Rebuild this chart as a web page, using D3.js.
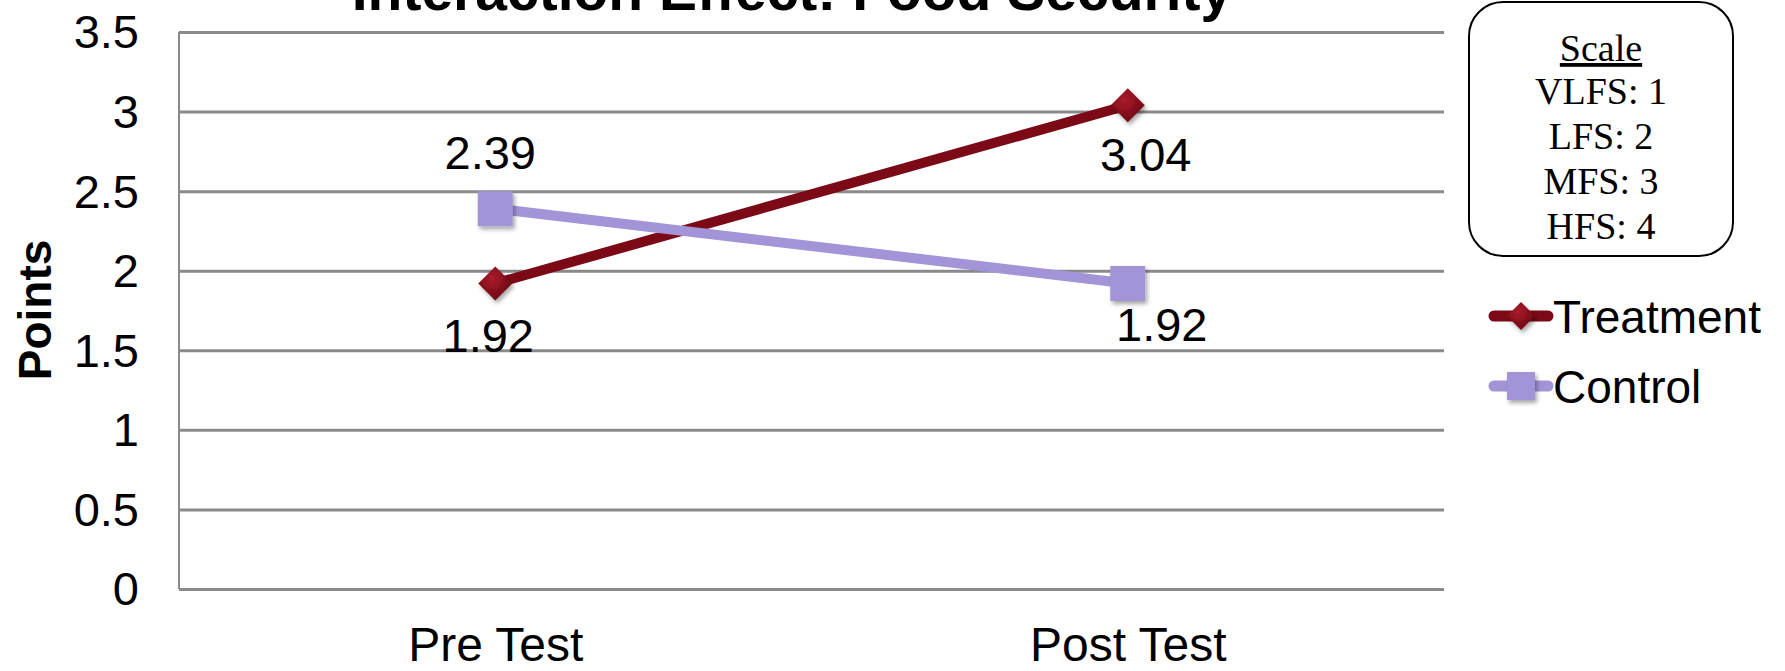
<!DOCTYPE html>
<html>
<head>
<meta charset="utf-8">
<script src="https://cdn.jsdelivr.net/npm/d3@7"></script>
<style>
    body { margin: 0; background: #fff; }
    svg { display: block; }
    text { font-family: 'Liberation Sans', Arial, sans-serif; fill: #000; }
    .box text { font-family: 'Liberation Serif', 'Times New Roman', serif; }
</style>
</head>
<body>
<div id="chart"></div>
<script>
// Data
const categories = ['Pre Test', 'Post Test'];
const treatment = [1.92, 3.04];
const control = [2.39, 1.92];
const yTicks = [0, 0.5, 1, 1.5, 2, 2.5, 3, 3.5];
const seriesNames = ['Treatment', 'Control'];
const scaleTitle = 'Scale';
const scaleLines = ['VLFS: 1', 'LFS: 2', 'MFS: 3', 'HFS: 4'];

const chart = {
    totalWidth: 1785,
    totalHeight: 671,
    margin: { top: 32, left: 179, right: 341, bottom: 82 }
};
chart.width = chart.totalWidth - chart.margin.left - chart.margin.right;
chart.height = chart.totalHeight - chart.margin.top - chart.margin.bottom;

const colors = { Treatment: '#7b0a16', Control: '#a394d8' };

const svg = d3.select('#chart')
    .append('svg')
    .attr('width', chart.totalWidth)
    .attr('height', chart.totalHeight);

const defs = svg.append('defs');
const grad = defs.append('radialGradient')
    .attr('id', 'diamondFill')
    .attr('cx', '40%').attr('cy', '35%').attr('r', '70%');
grad.append('stop').attr('offset', '0%').attr('stop-color', '#ab1c2b');
grad.append('stop').attr('offset', '100%').attr('stop-color', '#67050f');

const shadow = defs.append('filter').attr('id', 'shadow')
    .attr('x', '-30%').attr('y', '-30%').attr('width', '170%').attr('height', '170%');
shadow.append('feDropShadow')
    .attr('dx', 2).attr('dy', 3).attr('stdDeviation', 2)
    .attr('flood-color', '#000').attr('flood-opacity', 0.35);

// Scales
const xScale = d3.scalePoint()
    .domain(categories)
    .range([0, chart.width])
    .padding(0.5);

const yScale = d3.scaleLinear()
    .domain([0, 3.5])
    .range([chart.height, 0]);

const g = svg.append('g')
    .attr('transform', `translate(${chart.margin.left}, ${chart.margin.top})`);

// Title (cut off at the top in the original)
svg.append('text')
    .attr('x', 792)
    .attr('y', 10)
    .attr('text-anchor', 'middle')
    .style('font-weight', 'bold')
    .style('font-size', '57px')
    .text('Interaction Effect: Food Security');

// Y-axis with gridlines
const yAxis = d3.axisLeft(yScale)
    .tickValues(yTicks)
    .tickSize(-chart.width)
    .tickPadding(40)
    .tickFormat(d => d);

g.append('g')
    .classed('y-axis', true)
    .call(yAxis)
    .call(ax => ax.select('.domain').remove())
    .call(ax => ax.selectAll('line').attr('stroke', '#8a8a8a').attr('stroke-width', 3))
    .call(ax => ax.selectAll('text')
        .style('font-size', '47px')
        .style('font-family', "'Liberation Sans', Arial, sans-serif")
        .attr('dy', '0.34em'));

g.append('line')
    .attr('x1', 0).attr('x2', 0)
    .attr('y1', yScale(3.5)).attr('y2', yScale(0))
    .attr('stroke', '#8a8a8a')
    .attr('stroke-width', 2);

// X-axis labels
const xAxis = d3.axisBottom(xScale).tickSize(0).tickPadding(38);
g.append('g')
    .classed('x-axis', true)
    .attr('transform', `translate(0, ${chart.height})`)
    .call(xAxis)
    .call(ax => ax.select('.domain').remove())
    .call(ax => ax.selectAll('text')
        .style('font-size', '48px')
        .style('font-family', "'Liberation Sans', Arial, sans-serif"));

// Y label
svg.append('text')
    .attr('transform', `translate(51, 310) rotate(-90)`)
    .attr('text-anchor', 'middle')
    .style('font-weight', 'bold')
    .style('font-size', '46px')
    .text('Points');

// Lines
const series = [
    { id: 'Treatment', values: treatment, labelOffsets: [[-7, 69], [18, 66]] },
    { id: 'Control', values: control, labelOffsets: [[-5, -40], [34, 58]] }
];

const line = d3.line()
    .x((d, i) => xScale(categories[i]))
    .y(d => yScale(d));

g.append('g').classed('lines', true)
    .selectAll('path')
    .data(series)
    .enter()
    .append('path')
    .attr('fill', 'none')
    .attr('stroke', d => colors[d.id])
    .attr('stroke-width', 10)
    .attr('d', d => line(d.values));

const diamond = r => `M0,${-r}L${r},0L0,${r}L${-r},0Z`;
const square = s => `M${-s},${-s}H${s}V${s}H${-s}Z`;

function marker(sel, id, size) {
    if (id === 'Treatment') {
        sel.append('path')
            .attr('d', diamond(size))
            .attr('fill', 'url(#diamondFill)')
            .attr('filter', 'url(#shadow)');
    } else {
        sel.append('path')
            .attr('d', square(size))
            .attr('fill', colors.Control)
            .attr('filter', 'url(#shadow)');
    }
}

series.forEach(s => {
    s.values.forEach((v, i) => {
        const m = g.append('g')
            .attr('transform', `translate(${xScale(categories[i])}, ${yScale(v)})`);
        marker(m, s.id, s.id === 'Treatment' ? 17 : 17.5);
    });
});

// Data labels
series.forEach(s => {
    s.values.forEach((v, i) => {
        const off = s.labelOffsets[i];
        g.append('text')
            .attr('x', xScale(categories[i]) + off[0])
            .attr('y', yScale(v) + off[1])
            .attr('text-anchor', 'middle')
            .style('font-size', '47px')
            .text(v.toFixed(2));
    });
});

// Scale box
const box = svg.append('g').classed('box', true);
box.append('rect')
    .attr('x', 1469).attr('y', 2)
    .attr('width', 264).attr('height', 254)
    .attr('rx', 34).attr('ry', 34)
    .attr('fill', '#fff')
    .attr('stroke', '#000')
    .attr('stroke-width', 2);

box.append('text')
    .attr('x', 1601).attr('y', 61)
    .attr('text-anchor', 'middle')
    .style('font-size', '38px')
    .style('text-decoration', 'underline')
    .text(scaleTitle);

box.selectAll('.scale-line')
    .data(scaleLines)
    .enter()
    .append('text')
    .classed('scale-line', true)
    .attr('x', 1601)
    .attr('y', (d, i) => 104 + i * 45)
    .attr('text-anchor', 'middle')
    .style('font-size', '38px')
    .text(d => d);

// Legend
const legend = svg.append('g').classed('legend', true);
seriesNames.forEach((name, i) => {
    const ly = 316 + i * 70;
    const lg = legend.append('g').attr('transform', `translate(0, ${ly})`);
    lg.append('line')
        .attr('x1', 1494).attr('x2', 1548)
        .attr('y1', 0).attr('y2', 0)
        .attr('stroke', colors[name])
        .attr('stroke-width', 11)
        .attr('stroke-linecap', 'round');
    const m = lg.append('g').attr('transform', 'translate(1521, 0)');
    marker(m, name, 14);
    lg.append('text')
        .attr('x', 1553)
        .attr('y', 17)
        .style('font-size', '46px')
        .text(name);
});
</script>
</body>
</html>
